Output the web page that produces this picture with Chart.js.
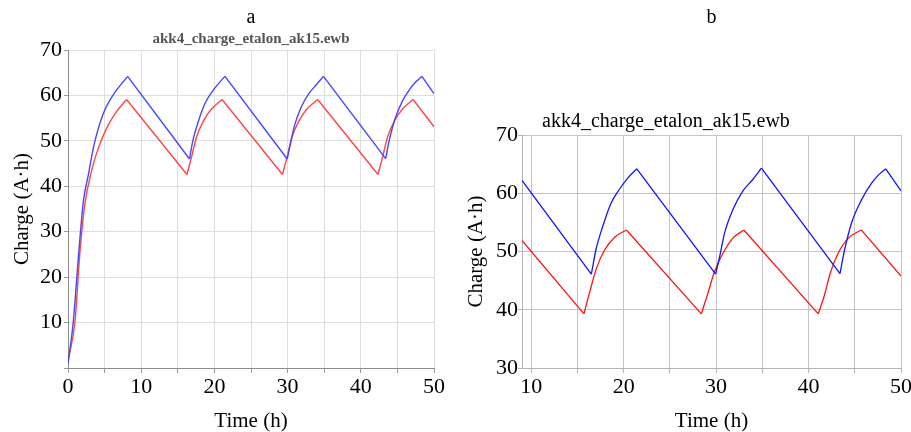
<!DOCTYPE html>
<html>
<head>
<meta charset="utf-8">
<title>akk4_charge_etalon_ak15</title>
<script src="https://cdn.jsdelivr.net/npm/chart.js@4.4.1/dist/chart.umd.min.js"></script>
<style>
  html, body { margin: 0; padding: 0; background: #fff; }
  #wrap { position: relative; width: 911px; height: 432px; overflow: hidden; }
  canvas { position: absolute; top: 0; }
  #chartA { left: 0; }
  #chartB { left: 455px; }
</style>
</head>
<body>
<div id="wrap">
  <canvas id="chartA" width="455" height="432"></canvas>
  <canvas id="chartB" width="456" height="432"></canvas>
</div>
<script>
// ---- data ----
const fileName = 'akk4_charge_etalon_ak15.ewb';

// chart a: 0..50 h
const aBlueTime   = [0, 0.73, 1.41, 2.1, 2.78, 3.46, 4.15, 5.05, 6.2, 8.15,
                     16.6, 17.05, 17.75, 18.65, 19.55, 20.5, 21.45,
                     29.95, 30.4, 30.95, 31.85, 32.9, 33.95, 34.9,
                     43.4, 43.9, 44.65, 45.7, 46.75, 47.6, 48.35, 50];
const aBlueCharge = [1.0, 10.3, 24.2, 36.7, 42.5, 48.4, 52.8, 56.9, 60.2, 64.2,
                     46.0, 50.0, 54.0, 58.0, 60.5, 62.5, 64.2,
                     46.0, 49.5, 53.4, 57.4, 60.4, 62.4, 64.2,
                     46.1, 50.2, 54.7, 58.8, 61.5, 63.1, 64.2, 60.4];
const aRedTime    = [0, 0.96, 1.64, 2.3, 3.2, 4.15, 5.28, 6.65, 8.0,
                     16.25, 16.9, 17.55, 18.5, 19.6, 21.05,
                     29.3, 29.95, 30.6, 31.55, 32.65, 34.1,
                     42.35, 43.0, 43.65, 44.6, 45.7, 47.15, 50];
const aRedCharge  = [1.5, 10.3, 25.7, 36.0, 43.3, 48.4, 52.8, 56.5, 59.1,
                     42.6, 46.6, 50.8, 54.4, 57.0, 59.1,
                     42.6, 46.6, 50.8, 54.4, 57.0, 59.1,
                     42.6, 46.6, 50.8, 54.4, 57.0, 59.1, 53.1];

// chart b: zoomed 9..50 h
const bBlueTime   = [9, 16.5, 17.0, 17.73, 18.63, 19.5, 20.44, 21.42,
                     29.95, 30.38, 30.92, 31.82, 32.9, 33.99, 34.9,
                     43.4, 43.9, 44.65, 45.74, 46.8, 47.6, 48.35, 50];
const bBlueCharge = [62.2, 46.1, 50.3, 54.3, 58.3, 60.6, 62.6, 64.2,
                     46.1, 49.1, 53.2, 57.2, 60.4, 62.4, 64.3,
                     46.2, 50.3, 54.9, 58.9, 61.7, 63.2, 64.2, 60.4];
const bRedTime    = [9, 15.7, 16.35, 17.05, 17.95, 19.05, 20.3,
                     28.4, 29.1, 29.84, 30.74, 31.82, 33.0,
                     41.05, 41.7, 42.35, 43.2, 44.3, 45.7, 50];
const bRedCharge  = [51.9, 39.3, 43.2, 47.1, 50.3, 52.5, 53.7,
                     39.3, 42.8, 46.6, 49.7, 52.3, 53.7,
                     39.3, 42.4, 46.3, 49.7, 52.3, 53.7, 45.8];

// ---- helpers ----
const serif = '"Liberation Serif", "Times New Roman", serif';
Chart.defaults.font.family = serif;
Chart.defaults.color = '#000';

// Split a series into charging (rising) or discharging (falling) runs,
// with null gaps between runs, so the charge curves can be smoothed
// while the discharge lines and the sharp turning points stay straight.
function runs(xs, ys, rising) {
  const out = [];
  let open = false;
  for (let i = 0; i < xs.length - 1; i++) {
    const up = ys[i + 1] > ys[i];
    if (up === rising) {
      if (!open) out.push({ x: xs[i], y: ys[i] });
      out.push({ x: xs[i + 1], y: ys[i + 1] });
      open = true;
    } else if (open) {
      out.push({ x: xs[i], y: null });
      open = false;
    }
  }
  return out;
}

function seriesSets(xs, ys, color, width) {
  const base = { borderColor: color, borderWidth: width, pointRadius: 0, fill: false, spanGaps: false };
  return [
    Object.assign({ data: runs(xs, ys, true), cubicInterpolationMode: 'monotone' }, base),
    Object.assign({ data: runs(xs, ys, false), tension: 0 }, base)
  ];
}

// label only every 10, grid every 5
function tenLabels(skipZero) {
  return function (value) {
    if (skipZero && value === 0) return '';
    return value % 10 === 0 ? String(value) : '';
  };
}

function fiveTicks(s) {
  const ticks = [];
  for (let v = Math.ceil(s.min / 5) * 5; v <= s.max; v += 5) ticks.push({ value: v });
  s.ticks = ticks;
}

function buildScales(opts) {
  return {
    x: {
      type: 'linear',
      min: opts.xMin,
      max: 50,
      afterBuildTicks: fiveTicks,
      afterFit: s => { s.height = 64; s.paddingRight = opts.xPadRight; },
      ticks: { stepSize: 5, padding: 1, font: { size: 22 }, maxRotation: 0, autoSkip: false, callback: tenLabels(false) },
      grid: { color: opts.grid, tickColor: opts.tick, tickLength: 5 },
      border: { color: opts.axis, width: 1 },
      title: { display: true, text: 'Time (h)', font: { size: 21, lineHeight: 1 }, padding: { top: 0, bottom: 0 } }
    },
    y: {
      min: opts.yMin,
      max: 70,
      afterFit: s => { s.width = opts.yWidth; },
      ticks: { stepSize: 10, padding: opts.yPad, font: { size: 22 }, callback: tenLabels(opts.yMin === 0) },
      grid: { color: opts.grid, tickColor: opts.tick, tickLength: 4 },
      border: { color: opts.axis, width: 1 },
      title: { display: true, text: 'Charge (A\u00b7h)', font: { size: 21, lineHeight: 1 }, padding: { top: opts.yTitlePad, bottom: 0 } }
    }
  };
}

// draws the file name of panel b, left aligned above the plot
const fileLabel = {
  id: 'fileLabel',
  afterDraw(chart, args, o) {
    if (!o.text) return;
    const ctx = chart.ctx;
    ctx.save();
    ctx.font = '20px ' + serif;
    ctx.fillStyle = '#000';
    ctx.textAlign = 'left';
    ctx.textBaseline = 'alphabetic';
    ctx.fillText(o.text, chart.chartArea.left + o.dx, chart.chartArea.top + o.dy);
    ctx.restore();
  }
};

// ---- chart a ----
new Chart(document.getElementById('chartA'), {
  type: 'line',
  data: {
    datasets: [
      ...seriesSets(aBlueTime, aBlueCharge, 'rgb(70, 70, 255)', 1.4),
      ...seriesSets(aRedTime, aRedCharge, 'rgb(255, 70, 70)', 1.4)
    ]
  },
  options: {
    responsive: false,
    devicePixelRatio: 1,
    animation: false,
    layout: { padding: { left: 0, right: 21, top: 0, bottom: 0 } },
    plugins: {
      legend: { display: false },
      tooltip: { enabled: false },
      title: { display: true, text: 'a', fullSize: false, font: { size: 20, weight: 'normal' }, color: '#000', padding: { top: 6, bottom: 0 } },
      subtitle: { display: true, text: fileName, fullSize: false, font: { size: 15, weight: 'bold' }, color: '#555', padding: { top: 0, bottom: 2 } }
    },
    scales: buildScales({ xMin: 0, yMin: 0, yWidth: 68, yPad: 2, yTitlePad: 12, xPadRight: 0,
                          grid: '#dedede', tick: '#9a9a9a', axis: '#8c8c8c' })
  }
});

// ---- chart b ----
new Chart(document.getElementById('chartB'), {
  type: 'line',
  data: {
    datasets: [
      ...seriesSets(bBlueTime, bBlueCharge, 'rgb(20, 20, 255)', 1.3),
      ...seriesSets(bRedTime, bRedCharge, 'rgb(255, 20, 20)', 1.3)
    ]
  },
  options: {
    responsive: false,
    devicePixelRatio: 1,
    animation: false,
    layout: { padding: { left: 0, right: 10, top: 0, bottom: 0 } },
    plugins: {
      legend: { display: false },
      tooltip: { enabled: false },
      title: { display: true, text: 'b', fullSize: false, font: { size: 20, weight: 'normal' }, color: '#000', padding: { top: 6, bottom: 105 } },
      fileLabel: { text: fileName, dx: 20, dy: -8 }
    },
    scales: buildScales({ xMin: 9, yMin: 30, yWidth: 67, yPad: 0, yTitlePad: 10.5, xPadRight: 0,
                          grid: '#c4c4c4', tick: '#b4b4b4', axis: '#b4b4b4' })
  },
  plugins: [fileLabel]
});
</script>
</body>
</html>
